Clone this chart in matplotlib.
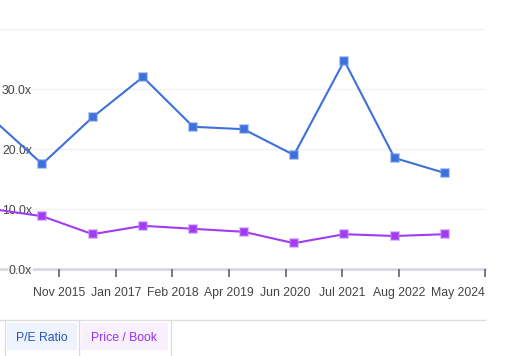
import matplotlib
matplotlib.use("Agg")
import matplotlib.pyplot as plt
import pandas as pd

plt.rcParams['font.family'] = ['Liberation Sans', 'DejaVu Sans']

# yearly points (one point before the visible range)
dates = pd.to_datetime(["2014-07-01", "2015-07-01", "2016-07-01", "2017-07-01", "2018-07-01",
                        "2019-07-01", "2020-07-01", "2021-07-01", "2022-07-01", "2023-07-01"])
pe_ratio = [25.1, 17.5, 25.3, 32.0, 23.7, 23.3, 19.0, 34.7, 18.5, 16.0]
price_book = [10.0, 8.8, 5.8, 7.2, 6.7, 6.2, 4.3, 5.8, 5.5, 5.8]

tick_labels = ["Nov 2015", "Jan 2017", "Feb 2018", "Apr 2019", "Jun 2020",
               "Jul 2021", "Aug 2022", "May 2024"]
y_ticks = [0, 10, 20, 30, 40]
y_labels = ["0.0x", "10.0x", "20.0x", "30.0x", ""]

x_start = pd.Timestamp("2014-08-29")
x_end = pd.Timestamp("2024-04-17")
# ticks evenly spaced like the source chart, last one at the axis end
first_tick = pd.Timestamp("2015-11-01")
step = pd.Timedelta(days=411)
tick_pos = [first_tick + i * step for i in range(7)] + [x_end]

blue = "#3d70d8"
purple = "#a23cf2"

fig = plt.figure(figsize=(5.10, 3.56), dpi=100)
ax = fig.add_axes([0, 1 - 269 / 356, 485 / 510, 269 / 356])

ax.plot(dates, pe_ratio, color=blue, lw=1.5, marker="s", ms=5.5,
        mfc=blue, mec=(0.4, 0.58, 0.92, 0.6), mew=1.2, zorder=3)
ax.plot(dates, price_book, color=purple, lw=1.5, marker="s", ms=5.5,
        mfc=purple, mec=(0.74, 0.48, 0.98, 0.6), mew=1.2, zorder=3)

ax.set_xlim(x_start, x_end)
ax.set_ylim(0, 269 / 6)

ax.set_yticks(y_ticks)
ax.set_yticklabels(y_labels)
ax.grid(axis="y", color="#f2f2f2", lw=1)
ax.tick_params(axis="y", length=0, pad=-23, labelsize=8.8, labelcolor="#444444")
for lab in ax.get_yticklabels():
    lab.set_horizontalalignment("right")
    lab.set_bbox(dict(facecolor="white", edgecolor="none", alpha=0.75, pad=0.5))
    lab.set_zorder(5)
ax.set_axisbelow(False)

ax.set_xticks(tick_pos)
ax.set_xticklabels(tick_labels)
ax.tick_params(axis="x", length=6, width=1.2, color="#5b6373", pad=7,
               labelsize=8.8, labelcolor="#444444")
xl = ax.get_xticklabels()
xl[-1].set_horizontalalignment("right")

for s in ["top", "right", "left"]:
    ax.spines[s].set_visible(False)
ax.spines["bottom"].set_color("#d4d7de")
ax.spines["bottom"].set_linewidth(2)

# button row under the chart
H = 356
W = 510
def px(x, y):
    return x / W, 1 - y / H

fig.add_artist(plt.Line2D([0, 485 / W], [1 - 320 / H] * 2, color="#dddddd", lw=1))
for xv in [5, 79, 171]:
    fig.add_artist(plt.Line2D([xv / W] * 2, [1 - 320 / H, 0], color="#dddddd", lw=1))
fig.add_artist(plt.Rectangle(px(7, 350), 70 / W, 27 / H, color="#eef3fd", lw=0))
fig.add_artist(plt.Rectangle(px(81, 350), 87 / W, 27 / H, color="#f9f0fe", lw=0))
fig.text(42 / W, 1 - 338 / H, "P/E Ratio", color="#2356c4", fontsize=8.8,
         ha="center", va="center")
fig.text(124 / W, 1 - 338 / H, "Price / Book", color="#9530ee", fontsize=8.8,
         ha="center", va="center")

fig.savefig("out.png", dpi=100)
